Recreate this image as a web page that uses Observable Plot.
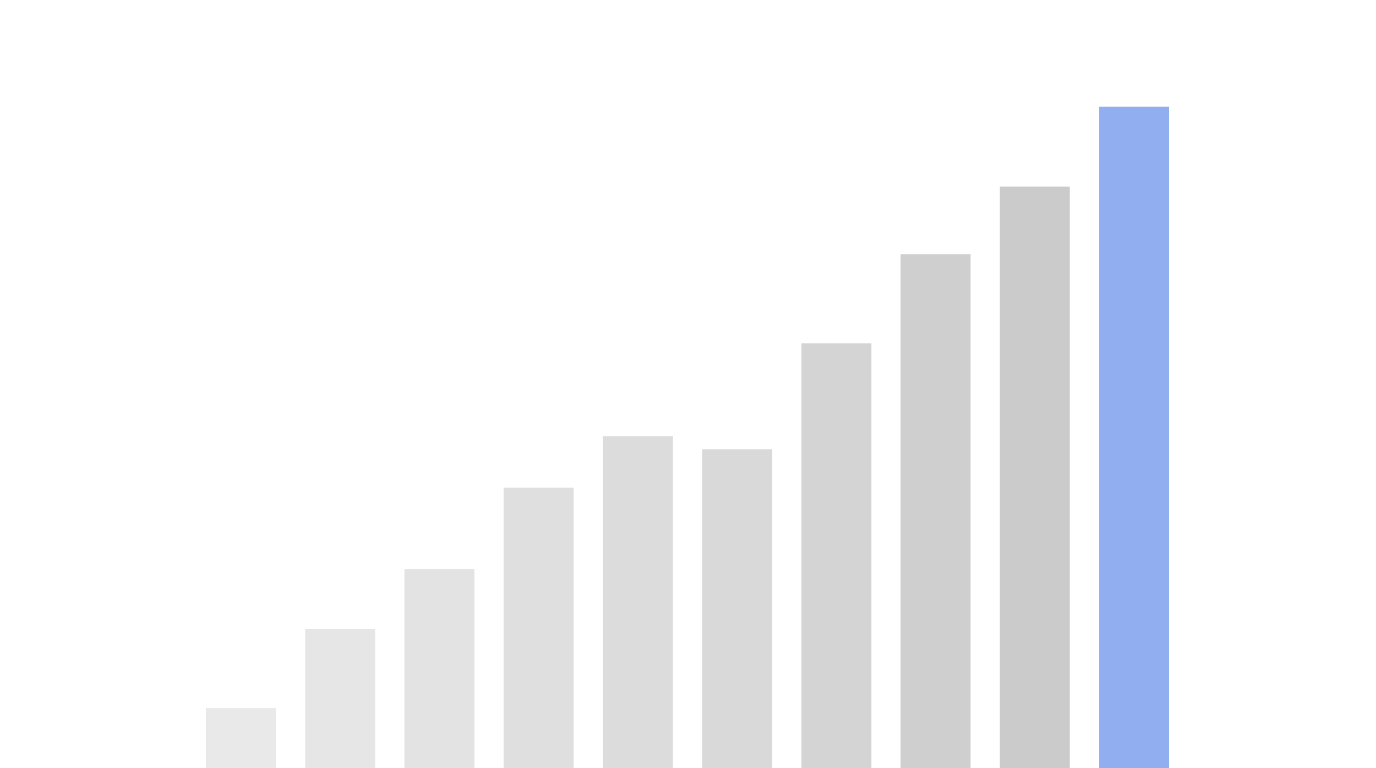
<!DOCTYPE html>
<html>
<head>
<meta charset="utf-8">
<script src="https://cdn.jsdelivr.net/npm/d3@7"></script>
<script src="https://cdn.jsdelivr.net/npm/@observablehq/plot@0.6"></script>
<style>
  html, body { margin: 0; padding: 0; background: #ffffff; overflow: hidden; }
  #chart svg { display: block; }
</style>
</head>
<body>
<div id="chart"></div>
<script>
const categories = ["1", "2", "3", "4", "5", "6", "7", "8", "9", "10"];
const values = [7.8, 18.1, 25.9, 36.5, 43.2, 41.5, 55.3, 66.9, 75.7, 86.1];
const colors = ["#e9e9e9", "#e6e6e6", "#e3e3e3", "#dfdfdf", "#dcdcdc", "#d9d9d9", "#d4d4d4", "#cfcfcf", "#cbcbcb", "#91aff0"];

const data = categories.map((c, i) => ({category: c, value: values[i], color: colors[i]}));

const chart = Plot.plot({
  width: 1376,
  height: 768,
  margin: 0,
  style: {background: "#ffffff"},
  x: {domain: categories, range: [206, 1169], paddingInner: 0.295, paddingOuter: 0, round: false, axis: null},
  y: {domain: [0, 100], range: [768, 0], axis: null},
  color: {type: "identity"},
  marks: [
    Plot.barY(data, {x: "category", y: "value", fill: "color"})
  ]
});
document.getElementById("chart").appendChild(chart);
</script>
</body>
</html>
